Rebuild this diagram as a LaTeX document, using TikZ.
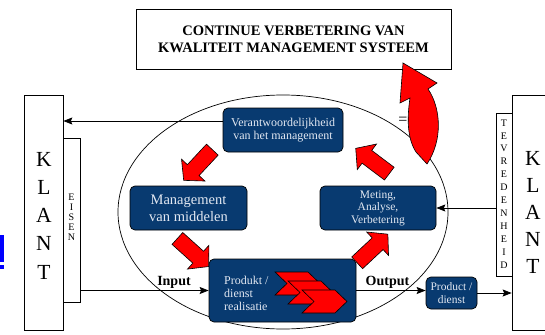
\documentclass[tikz,border=0pt]{standalone}
\usepackage{fontspec}
\setmainfont{Liberation Serif}
\usepackage{tikz}
\usetikzlibrary{arrows.meta}
\definecolor{boxblue}{RGB}{8,58,112}
\definecolor{boxtext}{RGB}{226,232,242}

\begin{document}
\begin{tikzpicture}[x=1pt, y=-1pt,
  bluebox/.style={draw=black, line width=0.7pt, fill=boxblue, rounded corners=5pt, text=boxtext, align=center, inner sep=0pt},
  klantbox/.style={draw=black, line width=0.7pt, inner sep=0pt},
  bigletter/.style={inner sep=0pt, font=\fontsize{21.5}{21.5}\selectfont},
  smallletter/.style={inner sep=0pt, font=\fontsize{10}{10}\selectfont},
  flow/.style={line width=0.8pt, -{Stealth[length=9pt,width=7pt,inset=1.5pt]}},
  redshape/.style={fill=red, draw=black, line width=0.6pt, line join=miter},
  pics/blockarrow/.style={code={
    \draw[redshape] (-21,-8) -- (7,-8) -- (7,-16) -- (21,0) -- (7,16) -- (7,8) -- (-21,8) -- cycle;}}
]
\useasboundingbox (0,0) rectangle (545,334);
\clip (0,0) rectangle (545,334);

% top box
\node[klantbox, minimum width=315, minimum height=60, align=center,
  font=\bfseries\fontsize{14.5}{17}\selectfont] (kms) at (293.5,39)
  {CONTINUE VERBETERING VAN\\KWALITEIT MANAGEMENT SYSTEEM};

% klant left
\node[klantbox, minimum width=39, minimum height=235] (klantL) at (43.5,212.5) {};
\node[klantbox, minimum width=17, minimum height=164] (eisen) at (71.5,220) {};
\foreach \l [count=\i] in {K,L,A,N,T}
  \node[bigletter] (kl\i) at (44,{159+28.3*(\i-1)}) {\l};
\foreach \l [count=\i] in {E,I,S,E,N}
  \node[smallletter] (ei\i) at (71.5,{197+10*(\i-1)}) {\l};

% klant right
\node[klantbox, minimum width=48, minimum height=235] (klantR) at (536,212.5) {};
\node[klantbox, minimum width=16, minimum height=163] (tevr) at (504,194.5) {};
\foreach \l [count=\i] in {K,L,A,N,T}
  \node[bigletter] (kr\i) at (533,{158+27.2*(\i-1)}) {\l};
\foreach \l [count=\i] in {T,E,V,R,E,D,E,N,H,E,I,D}
  \node[smallletter] (tv\i) at (504,{123+12.9*(\i-1)}) {\l};

% ellipse
\draw[line width=0.7pt] (283,212) ellipse [x radius=165, y radius=117];

% blue boxes
\node[bluebox, minimum width=120, minimum height=44,
  font=\fontsize{12}{13.5}\selectfont] (verantw) at (283,130)
  {Verantwoordelijkheid\\van het management};
\node[bluebox, minimum width=117, minimum height=44,
  font=\fontsize{14.5}{17}\selectfont] (middel) at (188.5,208)
  {Management\\van middelen};
\node[bluebox, minimum width=116, minimum height=44,
  font=\fontsize{11.5}{12.5}\selectfont] (meting) at (378,208)
  {Meting,\\Analyse,\\Verbetering};
\node[bluebox, minimum width=147, minimum height=63] (prod) at (282.5,290.5) {};
\node[align=left, inner sep=0pt, text=boxtext, anchor=west,
  font=\fontsize{12}{13}\selectfont] (prodtxt) at (224,293)
  {Produkt /\\dienst\\realisatie};
\node[bluebox, minimum width=51, minimum height=32,
  font=\fontsize{11.5}{13}\selectfont] (pdienst) at (451.5,293)
  {Product /\\dienst};

% chevrons
\foreach \x/\y in {275/272, 288/281, 302/290}
  \draw[redshape] (\x,\y) -- ++(33,0) -- ++(12,11.5) -- ++(-12,11.5) -- ++(-33,0) -- ++(12,-11.5) -- cycle;

% connectors
\draw[flow] ([yshift=9pt]verantw.west) -- ([yshift=9pt]verantw.west -| klantL.east);
\draw[flow] (tevr.west |- meting.east) -- (meting.east);
\draw[flow] (eisen.east |- prod.west) -- (prod.west);
\draw[flow] (prod.east) -- (prod.east -| pdienst.west);
\draw[flow] (pdienst.east) -- (pdienst.east -| klantR.west);

\node[font=\bfseries\fontsize{14}{14}\selectfont, inner sep=0pt] (input) at (174,282) {Input};
\node[font=\bfseries\fontsize{14}{14}\selectfont, inner sep=0pt] (output) at (387.5,282) {Output};

% red block arrows
\pic[rotate=227] at (198,165) {blockarrow};
\pic[rotate=-42] at (193,252.5) {blockarrow};
\pic[rotate=43] at (372.5,248.5) {blockarrow};
\pic[rotate=143] at (372.5,161) {blockarrow};

% curved arrow
\draw[redshape] (403,63) -- (437,83) -- (428,89) .. controls (441,108) and (443,140) .. (427,164)
  -- (416,152) .. controls (407,138) and (407,118) .. (410,98) -- (400,103) -- cycle;
\node[font=\fontsize{16}{16}\selectfont, inner sep=0pt] (gelijk) at (403,121) {=};

% blue mark at left edge
\fill[blue] (0,235) rectangle (4,262);
\fill[blue] (0,265) rectangle (4,269);
\end{tikzpicture}
\end{document}
